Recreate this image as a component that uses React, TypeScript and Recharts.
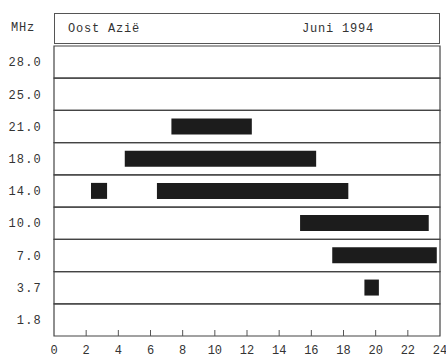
import { BarChart, Bar, XAxis, YAxis, ReferenceArea } from "recharts"

// frequency rows, top to bottom
const rows = ["28.0", "25.0", "21.0", "18.0", "14.0", "10.0", "7.0", "3.7", "1.8"]

// opening times (UTC hours), first and second window per band
const firstStart = [null, null, 7.3, 4.4, 2.3, 15.3, 17.3, 19.3, null]
const firstEnd = [null, null, 12.3, 16.3, 3.3, 23.3, 23.8, 20.2, null]
const secondStart = [null, null, null, null, 6.4, null, null, null, null]
const secondEnd = [null, null, null, null, 18.3, null, null, null, null]

const hourTicks = [0, 2, 4, 6, 8, 10, 12, 14, 16, 18, 20, 22, 24]

const font = "'Liberation Mono', 'DejaVu Sans Mono', monospace"
const ink = "#333"

const data = rows.map((mhz, i) => ({
  mhz,
  first: firstStart[i] != null ? [firstStart[i], firstEnd[i]] : null,
  second: secondStart[i] != null ? [secondStart[i], secondEnd[i]] : null,
}))

function HourTick(props: any) {
  const { x, y, payload } = props
  const v = payload.value
  return (
    <g>
      {v > 0 && v < 24 && <line x1={x} x2={x} y1={y} y2={y - 6} stroke="#555" />}
      <text x={x} y={y + 18} textAnchor="middle" fontFamily={font} fontSize={12} fill={ink}>
        {v}
      </text>
    </g>
  )
}

export default function App() {
  return (
    <div style={{ position: "absolute", left: 0, top: 0, width: 446, height: 357, background: "#fff" }}>
      <div
        style={{
          position: "absolute",
          left: 11,
          top: 21,
          fontFamily: font,
          fontSize: 12,
          letterSpacing: 0.8,
          color: ink,
        }}
      >
        MHz
      </div>
      <div
        style={{
          position: "absolute",
          left: 54,
          top: 13,
          width: 386,
          height: 31,
          boxSizing: "border-box",
          border: "1px solid #555",
          fontFamily: font,
          fontSize: 12,
          letterSpacing: 0.8,
          color: ink,
        }}
      >
        <span style={{ position: "absolute", left: 13, top: 8 }}>Oost Azië</span>
        <span style={{ position: "absolute", left: 247, top: 8 }}>Juni 1994</span>
      </div>
      <BarChart
        width={446}
        height={357}
        data={data}
        layout="vertical"
        margin={{ top: 46, right: 6, left: 0, bottom: 0 }}
        barCategoryGap={0}
      >
        <XAxis
          type="number"
          dataKey="first"
          domain={[0, 24]}
          ticks={hourTicks}
          allowDataOverflow
          height={21}
          axisLine={false}
          tickLine={false}
          tickSize={0}
          tickMargin={0}
          tick={<HourTick />}
          interval={0}
        />
        <YAxis
          yAxisId="rows"
          type="category"
          dataKey="mhz"
          width={54}
          axisLine={false}
          tickLine={false}
          tickMargin={6}
          tick={{ fontFamily: font, fontSize: 12, fill: ink, letterSpacing: 1.2 }}
        />
        <YAxis yAxisId="rows2" type="category" dataKey="mhz" hide />
        {rows.map((r) => (
          <ReferenceArea
            key={r}
            yAxisId="rows"
            y1={r}
            y2={r}
            x1={0}
            x2={24}
            fill="none"
            stroke="#444"
            strokeWidth={1.2}
            ifOverflow="extendDomain"
          />
        ))}
        <Bar yAxisId="rows" dataKey="first" fill="#1c1c1c" barSize={16} isAnimationActive={false} />
        <Bar yAxisId="rows2" dataKey="second" fill="#1c1c1c" barSize={16} isAnimationActive={false} />
      </BarChart>
    </div>
  )
}
